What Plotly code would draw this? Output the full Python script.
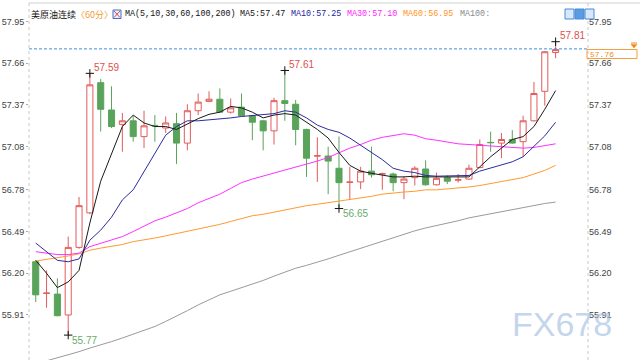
import plotly.graph_objects as go

# ---------------- data ----------------
opens  = [56.28, 56.060, 56.055, 55.91, 56.38, 56.62, 57.525, 57.335, 57.235, 57.26,
          57.15, 57.228, 57.21, 57.24, 57.105, 57.33, 57.395, 57.41, 57.32, 57.355,
          57.295, 57.26, 57.19, 57.40, 57.375, 57.20, 57.015, 57.015, 56.93, 56.832,
          56.835, 56.91, 56.89, 56.89, 56.83, 56.865, 56.925, 56.815, 56.865, 56.848,
          56.855, 56.935, 57.110, 57.105, 57.13, 57.115, 57.26, 57.465, 57.735]
highs  = [56.29, 56.22, 56.165, 56.455, 56.73, 57.59, 57.55, 57.50, 57.315, 57.295,
          57.33, 57.30, 57.29, 57.315, 57.375, 57.45, 57.465, 57.485, 57.415, 57.45,
          57.30, 57.265, 57.42, 57.61, 57.405, 57.205, 57.145, 57.08, 57.15, 56.94,
          56.94, 57.08, 56.90, 56.90, 56.875, 56.945, 56.985, 56.90, 56.88, 56.89,
          56.955, 57.13, 57.185, 57.175, 57.195, 57.295, 57.53, 57.745, 57.81]
lows   = [56.00, 55.96, 55.90, 55.77, 56.37, 56.61, 57.185, 57.21, 57.045, 57.115,
          57.07, 57.115, 57.175, 56.96, 57.055, 57.30, 57.39, 57.32, 57.31, 57.295,
          57.125, 57.055, 57.095, 57.26, 57.09, 56.87, 56.835, 56.75, 56.65, 56.71,
          56.785, 56.865, 56.78, 56.77, 56.715, 56.81, 56.81, 56.81, 56.82, 56.83,
          56.85, 56.93, 57.045, 57.00, 57.10, 57.01, 57.255, 57.365, 57.695]
closes = [56.05, 56.062, 55.905, 56.38, 56.67, 57.51, 57.34, 57.22, 57.26, 57.15,
          57.225, 57.225, 57.245, 57.105, 57.33, 57.39, 57.41, 57.32, 57.35, 57.295,
          57.25, 57.19, 57.40, 57.38, 57.20, 57.00, 57.017, 56.98, 56.83, 56.834,
          56.91, 56.885, 56.892, 56.83, 56.855, 56.93, 56.815, 56.86, 56.84, 56.850,
          56.93, 57.095, 57.108, 57.13, 57.105, 57.26, 57.45, 57.74, 57.755]

ma5   = [56.29, 56.20, 56.10, 56.14, 56.22, 56.55, 56.84, 57.03, 57.22, 57.30,
         57.245, 57.22, 57.22, 57.20, 57.24, 57.275, 57.305, 57.32, 57.36, 57.35,
         57.32, 57.28, 57.30, 57.31, 57.30, 57.25, 57.20, 57.14, 57.04, 56.95,
         56.91, 56.895, 56.88, 56.87, 56.87, 56.875, 56.87, 56.87, 56.87, 56.865,
         56.87, 56.94, 57.01, 57.07, 57.13, 57.15, 57.22, 57.34, 57.47]
ma10  = [56.41, 56.35, 56.29, 56.28, 56.30, 56.43, 56.50, 56.59, 56.71, 56.78,
         56.91, 57.03, 57.16, 57.22, 57.26, 57.26, 57.265, 57.27, 57.28, 57.29,
         57.295, 57.30, 57.31, 57.33, 57.32, 57.28, 57.23, 57.20, 57.18, 57.14,
         57.09, 57.04, 56.99, 56.93, 56.91, 56.90, 56.88, 56.875, 56.875, 56.875,
         56.88, 56.91, 56.93, 56.95, 56.975, 57.01, 57.08, 57.155, 57.25]
ma30  = [56.35, 56.34, 56.33, 56.33, 56.34, 56.385, 56.41, 56.43, 56.455, 56.49,
         56.53, 56.565, 56.59, 56.62, 56.65, 56.69, 56.72, 56.75, 56.79, 56.83,
         56.855, 56.875, 56.895, 56.92, 56.935, 56.96, 56.98, 57.005, 57.04, 57.07,
         57.095, 57.125, 57.145, 57.16, 57.17, 57.16, 57.135, 57.125, 57.11, 57.10,
         57.095, 57.09, 57.085, 57.08, 57.07, 57.07, 57.075, 57.085, 57.10]
ma60  = [56.285, 56.295, 56.305, 56.32, 56.335, 56.36, 56.375, 56.385, 56.40, 56.42,
         56.43, 56.445, 56.46, 56.475, 56.49, 56.51, 56.525, 56.54, 56.56, 56.58,
         56.60, 56.61, 56.625, 56.645, 56.655, 56.67, 56.68, 56.69, 56.70, 56.715,
         56.725, 56.735, 56.75, 56.76, 56.765, 56.77, 56.78, 56.78, 56.785, 56.79,
         56.80, 56.81, 56.825, 56.835, 56.85, 56.865, 56.89, 56.915, 56.95]
ma100 = [55.57, 55.59, 55.61, 55.63, 55.655, 55.68, 55.70, 55.725, 55.75, 55.775,
         55.80, 55.83, 55.865, 55.90, 55.94, 55.98, 56.015, 56.05, 56.075, 56.10,
         56.12, 56.15, 56.18, 56.21, 56.235, 56.255, 56.275, 56.30, 56.325, 56.35,
         56.375, 56.40, 56.425, 56.45, 56.475, 56.495, 56.515, 56.53, 56.55, 56.565,
         56.585, 56.60, 56.61, 56.63, 56.645, 56.66, 56.675, 56.685, 56.695]

tick_vals = [57.95, 57.66, 57.37, 57.08, 56.78, 56.49, 56.20, 55.91]
tick_text = ["57.95", "57.66", "57.37", "57.08", "56.78", "56.49", "56.20", "55.91"]

last_price = 57.76
high_marks = [5, 23, 48]     # candle indices of marked highs
low_marks = [3, 28]          # candle indices of marked lows

title_name = "美原油连续"
title_period = "〈60分〉"
legend_items = [("MA(5,10,30,60,100,200)", "#111111"),
                ("MA5:57.47", "#111111"),
                ("MA10:57.25", "#23239C"),
                ("MA30:57.10", "#FF22FF"),
                ("MA60:56.95", "#FF9322"),
                ("MA100:", "#8A8A8A")]

# ---------------- layout helpers ----------------
W, H = 640, 360
L, R, T, B = 29, 588, 3, 360
PW, PH = R - L, B - T
def px(x):  # pixel x -> paper
    return (x - L) / PW
def py(y):  # pixel y -> paper
    return (B - y) / PH

n = len(closes)
idx = list(range(n))
YR = [55.597, 58.079]

RED = "#E35B5B"
GREEN = "#5AA35A"

fig = go.Figure()
fig.add_trace(go.Candlestick(
    x=idx, open=opens, high=highs, low=lows, close=closes,
    increasing=dict(line=dict(color=RED, width=1), fillcolor="white"),
    decreasing=dict(line=dict(color=GREEN, width=1), fillcolor=GREEN),
    whiskerwidth=0, hoverinfo="skip", showlegend=False))

for vals, col in [(ma100, "#9A9A9A"), (ma60, "#FF9A2E"), (ma30, "#FF30FF"),
                  (ma10, "#2B2BA0"), (ma5, "#1A1A1A")]:
    fig.add_trace(go.Scatter(x=idx, y=vals, mode="lines",
                             line=dict(color=col, width=1),
                             hoverinfo="skip", showlegend=False))

# extreme markers
mx = high_marks + low_marks
my = [highs[i] for i in high_marks] + [lows[i] for i in low_marks]
fig.add_trace(go.Scatter(x=mx, y=my, mode="markers",
                         marker=dict(symbol="cross-thin", size=6,
                                     line=dict(color="#111111", width=1)),
                         hoverinfo="skip", showlegend=False))

# invisible trace for right axis
fig.add_trace(go.Scatter(x=idx, y=closes, yaxis="y2", mode="lines",
                         line=dict(width=0, color="rgba(0,0,0,0)"),
                         hoverinfo="skip", showlegend=False))

annotations = []
for i in high_marks:
    annotations.append(dict(x=i, y=highs[i], xref="x", yref="y", text=f"{highs[i]:.2f}",
                            showarrow=False, xanchor="left", yanchor="middle",
                            xshift=2, yshift=6,
                            font=dict(family="Liberation Sans, Arial", size=10, color="#E0504C")))
for i in low_marks:
    annotations.append(dict(x=i, y=lows[i], xref="x", yref="y", text=f"{lows[i]:.2f}",
                            showarrow=False, xanchor="left", yanchor="middle",
                            xshift=2, yshift=-5,
                            font=dict(family="Liberation Sans, Arial", size=10, color="#6AAA6A")))

# title row
TY = 14
annotations.append(dict(x=px(29), y=py(TY), xref="paper", yref="paper", text=title_name,
                        showarrow=False, xanchor="left", yanchor="middle",
                        font=dict(family="Noto Sans CJK SC", size=9, color="#111111")))
annotations.append(dict(x=px(74), y=py(TY), xref="paper", yref="paper", text=title_period,
                        showarrow=False, xanchor="left", yanchor="middle",
                        font=dict(family="Noto Sans CJK SC", size=9, color="#F0A030")))
xs = [123, 238, 289, 345, 401, 458]
for (txt, col), x0 in zip(legend_items, xs):
    annotations.append(dict(x=px(x0), y=py(TY), xref="paper", yref="paper", text=txt,
                            showarrow=False, xanchor="left", yanchor="middle",
                            font=dict(family="Liberation Mono", size=8.4, color=col)))

# current price label
annotations.append(dict(x=px(588), y=py(54), xref="paper", yref="paper", text=f"{last_price:.2f}",
                        showarrow=False, xanchor="left", yanchor="middle",
                        font=dict(family="Liberation Mono", size=8, color="#F08A1C")))

# watermark
annotations.append(dict(x=px(562), y=py(324), xref="paper", yref="paper", text="FX678",
                        showarrow=False, xanchor="center", yanchor="middle",
                        font=dict(family="Liberation Sans, Arial", size=34,
                                  color="rgba(170,195,228,0.7)")))

shapes = []
# top border
shapes.append(dict(type="line", xref="paper", yref="paper", x0=px(L), x1=px(640), y0=py(3), y1=py(3),
                   line=dict(color="#D0D0D0", width=1)))
# dotted side lines
for xx in (L, R):
    shapes.append(dict(type="line", xref="paper", yref="paper", x0=px(xx), x1=px(xx),
                       y0=py(3), y1=py(360), line=dict(color="#C8C8C8", width=1, dash="dot")))
# last price dashed line
shapes.append(dict(type="line", xref="paper", yref="y", x0=0, x1=1, y0=last_price, y1=last_price,
                   line=dict(color="#3D8FE0", width=1, dash="3px,2px")))
# price box
shapes.append(dict(type="rect", xref="paper", yref="paper", x0=px(587), x1=px(637),
                   y0=py(58.5), y1=py(49.5), line=dict(color="#F4A040", width=1),
                   fillcolor="rgba(255,255,255,0)"))
# pin icon
shapes.append(dict(type="line", xref="paper", yref="paper", x0=px(631), x1=px(637),
                   y0=py(43), y1=py(43), line=dict(color="#F08A1C", width=1)))
shapes.append(dict(type="path", xref="paper", yref="paper",
                   path=f"M {px(631)},{py(44.5)} L {px(637)},{py(44.5)} L {px(634)},{py(48)} Z",
                   fillcolor="#F08A1C", line=dict(color="#F08A1C", width=0.5)))
# small icon after title
shapes.append(dict(type="rect", xref="paper", yref="paper", x0=px(113), x1=px(121),
                   y0=py(18.5), y1=py(10), line=dict(color="#3B6FD0", width=1), fillcolor="#EAF0FF"))
shapes.append(dict(type="line", xref="paper", yref="paper", x0=px(114), x1=px(120),
                   y0=py(17.5), y1=py(11), line=dict(color="#E04040", width=1)))
shapes.append(dict(type="line", xref="paper", yref="paper", x0=px(114), x1=px(120),
                   y0=py(11), y1=py(17.5), line=dict(color="#E04040", width=1)))
# top-right tool icons
for x0, fill in [(565, "#D8E8FA"), (575, "#5B9BE0"), (585, "#D8E8FA")]:
    shapes.append(dict(type="rect", xref="paper", yref="paper", x0=px(x0), x1=px(x0 + 9),
                       y0=py(19), y1=py(9), line=dict(color="#4A8AD6", width=1), fillcolor=fill))

fig.update_layout(
    width=W, height=H,
    margin=dict(l=L, r=W - R, t=T, b=H - B, pad=0),
    paper_bgcolor="white", plot_bgcolor="white",
    showlegend=False, boxgap=0.2,
    xaxis=dict(range=[-0.62, 50.99], showgrid=False, zeroline=False, showticklabels=False,
               showline=False, ticks="", rangeslider=dict(visible=False), fixedrange=True),
    yaxis=dict(range=YR, tickvals=tick_vals, ticktext=tick_text, showgrid=False, zeroline=False,
               showline=False, ticks="outside", ticklen=2, tickcolor="#AAAAAA",
               tickfont=dict(family="Liberation Sans, Arial", size=9, color="#444444")),
    yaxis2=dict(range=YR, overlaying="y", side="right", tickvals=tick_vals, ticktext=tick_text,
                showgrid=False, zeroline=False, showline=False, ticks="", ticklen=2,
                tickfont=dict(family="Liberation Sans, Arial", size=9, color="#444444")),
    annotations=annotations, shapes=shapes,
    hovermode=False,
)

fig.write_html("out.html",
               config={"displayModeBar": False, "staticPlot": True},
               post_script="document.body.style.margin='0px';document.body.style.overflow='hidden';")
